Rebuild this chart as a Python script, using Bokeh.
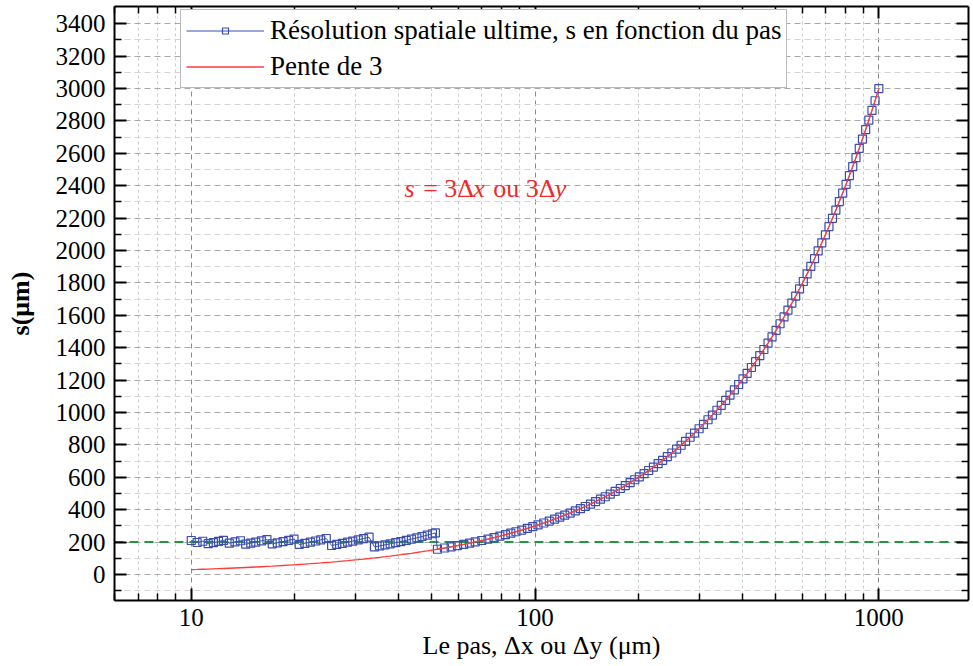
import math
from bokeh.plotting import figure
from bokeh.models import (Range1d, FixedTicker, LinearAxis, LogAxis, Span, Label,
                          Legend, LegendItem, NumeralTickFormatter, CustomJSTickFormatter)
from bokeh.embed import file_html
from bokeh.resources import INLINE

# ---------------- data ----------------
# step dx (um) and ultimate spatial resolution s (um), sawtooth part
dx_saw = [10.0, 10.4, 10.8, 11.2, 11.6, 12.0, 12.4, 12.9, 13.4, 13.9,
          14.4, 14.9, 15.4, 16.0, 16.6, 17.2, 17.8, 18.5, 19.2, 19.9,
          20.6, 21.4, 22.2, 23.0, 23.8, 24.7, 25.6, 26.5, 27.5, 28.5,
          29.5, 30.6, 31.7, 32.9, 34.1, 35.3, 36.6, 37.9, 39.3, 40.7,
          42.2, 43.7, 45.3, 46.9, 48.6, 50.3, 51.3]
s_saw = [210.0, 197.6, 205.2, 190.4, 197.2, 204.0, 210.8, 193.5, 201.0, 208.5,
         187.2, 193.7, 200.2, 208.0, 215.8, 189.2, 195.8, 203.5, 211.2, 218.9,
         185.4, 192.6, 199.8, 207.0, 214.2, 222.3, 179.2, 185.5, 192.5, 199.5,
         206.5, 214.2, 221.9, 230.3, 170.5, 176.5, 183.0, 189.5, 196.5, 203.5,
         211.0, 218.5, 226.5, 234.5, 243.0, 251.5, 256.5]
# "Pente de 3" line under the sawtooth part
s_pente_low = [30.0, 31.2, 32.4, 33.6, 34.8, 36.0, 37.2, 38.7, 40.2, 41.7,
               43.2, 44.7, 46.2, 48.0, 49.8, 51.6, 53.4, 55.5, 57.6, 59.7,
               61.8, 64.2, 66.6, 69.0, 71.4, 74.1, 76.8, 79.5, 82.5, 85.5,
               88.5, 91.8, 95.1, 98.7, 102.3, 105.9, 109.8, 113.7, 117.9, 122.1,
               126.6, 131.1, 135.9, 140.7, 145.8, 150.9, 153.9]
# part where both curves coincide (s = 3 dx)
dx_pente = [52, 54.5, 57, 59.5, 62, 64.5, 67, 70, 73, 76, 79, 82, 85, 88, 91.5,
            95, 98.5, 102, 106, 110, 114, 118, 122, 126.5, 131, 135.5, 140, 145,
            150, 155, 160, 165.5, 171, 177, 183, 189, 195, 201, 207.5, 214, 221,
            228, 235, 242.5, 250, 258, 266, 274, 282.5, 291, 300, 309, 318.5, 328,
            338, 348, 358.5, 369, 380, 391, 402.5, 414, 426, 438, 450.5, 463, 476,
            489, 502.5, 516, 530, 544, 558.5, 573, 588, 603, 618.5, 634, 650, 666,
            682.5, 699, 716, 733, 750, 767.5, 785, 803, 821, 839.5, 858, 877, 896,
            915.5, 935, 955, 975, 1000]
s_pente = [156, 163.5, 171, 178.5, 186, 193.5, 201, 210, 219, 228, 237, 246, 255, 264, 274.5,
           285, 295.5, 306, 318, 330, 342, 354, 366, 379.5, 393, 406.5, 420, 435,
           450, 465, 480, 496.5, 513, 531, 549, 567, 585, 603, 622.5, 642, 663,
           684, 705, 727.5, 750, 774, 798, 822, 847.5, 873, 900, 927, 955.5, 984,
           1014, 1044, 1075.5, 1107, 1140, 1173, 1207.5, 1242, 1278, 1314, 1351.5, 1389, 1428,
           1467, 1507.5, 1548, 1590, 1632, 1675.5, 1719, 1764, 1809, 1855.5, 1902, 1950, 1998,
           2047.5, 2097, 2148, 2199, 2250, 2302.5, 2355, 2409, 2463, 2518.5, 2574, 2631, 2688,
           2746.5, 2805, 2865, 2925, 3000]

seuil = 200  # green dashed reference line

x_major = [10, 100, 1000]
x_minor = [6, 7, 8, 9, 20, 30, 40, 50, 60, 70, 80, 90,
           200, 300, 400, 500, 600, 700, 800, 900]
y_major = list(range(0, 3401, 200))
y_minor = list(range(-100, 3500, 200))

legend_labels = ["Résolution spatiale ultime, s en fonction du pas", "Pente de 3"]
x_title = "Le pas, Δx ou Δy (μm)"
y_title = "s(μm)"

BLUE = "#3b4db0"
RED = "#ff3b3b"
GREEN = "#1e9a3c"
FONT = "Liberation Serif"

# ---------------- figure ----------------
p = figure(frame_width=854, frame_height=594, x_axis_type="log",
           x_range=Range1d(5.98, 1823.0), y_range=Range1d(-160.5, 3506.8),
           output_backend="svg", toolbar_location=None,
           min_border_left=114, min_border_right=2, min_border_top=6, min_border_bottom=66)
p.background_fill_color = "white"
p.border_fill_color = "white"
p.outline_line_color = None

xt = FixedTicker(ticks=x_major, minor_ticks=x_minor)
yt = FixedTicker(ticks=y_major, minor_ticks=y_minor)

def style_axis(ax, labels=True):
    ax.axis_line_color = "black"
    ax.axis_line_width = 2
    ax.major_tick_line_color = "black"
    ax.major_tick_line_width = 2
    ax.minor_tick_line_color = "black"
    ax.minor_tick_line_width = 1.5
    ax.major_tick_in = 12
    ax.major_tick_out = 0
    ax.minor_tick_in = 7
    ax.minor_tick_out = 0
    if labels:
        ax.major_label_text_font = FONT
        ax.major_label_text_font_size = "25px"
        ax.major_label_text_color = "black"
        ax.axis_label_text_font = FONT
        ax.axis_label_text_font_size = "26px"
        ax.axis_label_text_color = "black"
    else:
        ax.formatter = CustomJSTickFormatter(code="return ''")
        ax.major_label_text_font_size = "1px"
        ax.major_label_standoff = 0

p.xaxis.ticker = xt
p.xaxis.formatter = NumeralTickFormatter(format="0")
p.yaxis.ticker = yt
style_axis(p.xaxis[0])
style_axis(p.yaxis[0])
p.xaxis.major_label_standoff = 8
p.yaxis.major_label_standoff = 9
p.xaxis.axis_label = x_title
p.xaxis.axis_label_standoff = 2
p.xaxis.axis_label_text_font_style = "normal"
p.yaxis.axis_label = y_title
p.yaxis.axis_label_standoff = 18
p.yaxis.axis_label_text_font_style = "bold"

top_ax = LogAxis(ticker=xt)
style_axis(top_ax, labels=False)
p.add_layout(top_ax, "above")
right_ax = LinearAxis(ticker=yt)
style_axis(right_ax, labels=False)
p.add_layout(right_ax, "right")

p.xgrid.ticker = xt
p.ygrid.ticker = yt
p.xgrid.grid_line_color = "#8a8a8a"
p.xgrid.grid_line_dash = "5 4"
p.xgrid.minor_grid_line_color = "#cccccc"
p.xgrid.minor_grid_line_dash = "3 3"
p.ygrid.grid_line_color = "#a8a8a8"
p.ygrid.grid_line_dash = "6 4"
p.ygrid.minor_grid_line_color = "#ddd3d3"
p.ygrid.minor_grid_line_dash = "6 4"

p.add_layout(Span(location=seuil, dimension="width", line_color=GREEN,
                  line_dash="9 6", line_width=2, level="underlay"))

dx_all = dx_saw + dx_pente
s_blue = s_saw + s_pente
s_red = s_pente_low + s_pente

bl = p.line(dx_all, s_blue, line_color=BLUE, line_width=1)
bs = p.scatter(dx_all, s_blue, marker="square", size=8, fill_color=None,
               line_color=BLUE, line_width=1.2)
rl = p.line(dx_all, s_red, line_color=RED, line_width=1.3)

legend = Legend(items=[LegendItem(label=legend_labels[0], renderers=[bl, bs]),
                       LegendItem(label=legend_labels[1], renderers=[rl])],
                location=(66, 512))
legend.label_text_font = FONT
legend.label_text_font_size = "27px"
legend.label_text_color = "black"
legend.label_height = 30
legend.glyph_height = 15
legend.glyph_width = 78
legend.label_standoff = 6
legend.spacing = 5
legend.padding = 5
legend.margin = 0
legend.border_line_color = "#777777"
legend.border_line_width = 1.5
legend.background_fill_color = "white"
legend.background_fill_alpha = 1
p.add_layout(legend)

def piece(x, y, text, xo=0, style="normal", size="26px", color="black"):
    p.add_layout(Label(x=x, y=y, text=text, x_offset=xo,
                       text_font=FONT, text_font_size=size, text_font_style=style,
                       text_color=color, text_align="left", text_baseline="alphabetic"))

# annotation: "s = 3Δx ou 3Δy"
AN_X, AN_Y = 41.73, 2383.0
ANC = "#ee2a2a"
piece(AN_X, AN_Y, "s", 0, style="italic", color=ANC)
piece(AN_X, AN_Y, "= 3Δ", 18.6, color=ANC)
piece(AN_X, AN_Y, "x", 68.7, style="italic", color=ANC)
piece(AN_X, AN_Y, "ou 3Δ", 88.7, color=ANC)
piece(AN_X, AN_Y, "y", 150.1, style="italic", color=ANC)

with open("out.html", "w", encoding="utf-8") as f:
    f.write(file_html(p, INLINE))
